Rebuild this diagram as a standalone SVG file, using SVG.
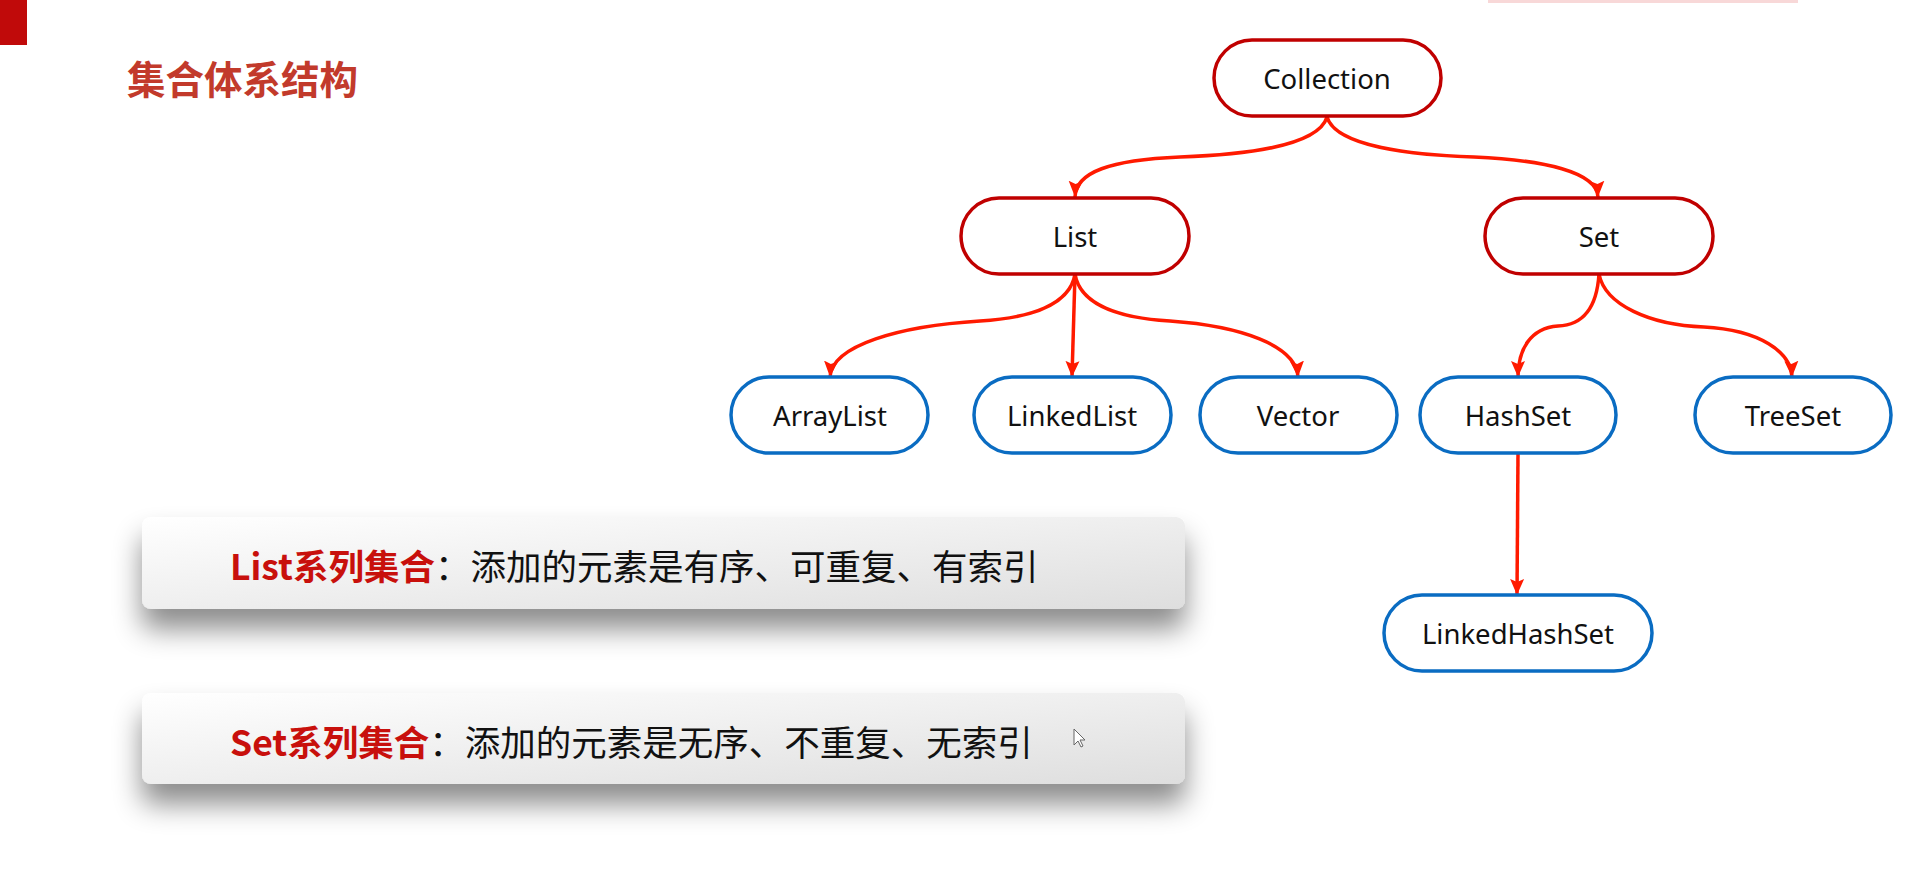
<svg xmlns="http://www.w3.org/2000/svg" width="1920" height="875" viewBox="0 0 1920 875">
<style>
.title{font-family:"Noto Sans CJK SC","Noto Sans",sans-serif;font-size:38.5px;font-weight:700;fill:#c23a2b}
.lbl{font-family:"Noto Sans","Open Sans","Noto Sans CJK SC",sans-serif;font-size:27.5px;fill:#111;text-anchor:middle;dominant-baseline:central}
.rn{fill:#fff;stroke:#c00000;stroke-width:3.5}
.bn{fill:#fff;stroke:#0a6cc2;stroke-width:3.5}
.edge{fill:none;stroke:#ff1a00;stroke-width:3.5;marker-end:url(#arr)}
.ban{fill:url(#bg);filter:url(#sh)}
.bt{font-family:"Noto Sans CJK SC","Noto Sans",sans-serif;font-size:35.5px;fill:#111;dominant-baseline:central}
.bt .hl{fill:#c8100c;font-weight:700}
</style>
<defs>
<marker id="arr" markerUnits="userSpaceOnUse" markerWidth="18" markerHeight="18" viewBox="0 -9 18 18" refX="16" refY="0" orient="auto">
<path d="M0,-7 L16,0 L0,7 L3,0 Z" fill="#ff1a00"/>
</marker>
<linearGradient id="bg" x1="0" y1="0" x2="1" y2="1">
<stop offset="0" stop-color="#ffffff"/>
<stop offset="1" stop-color="#dedede"/>
</linearGradient>
<filter id="sh" x="-10%" y="-30%" width="120%" height="200%">
<feDropShadow dx="0" dy="20" stdDeviation="14" flood-color="#000" flood-opacity="0.45"/>
</filter>
</defs>
<rect width="1920" height="875" fill="#fff"/>
<rect x="0" y="0" width="27" height="45" fill="#c00a0a"/>
<rect x="1488" y="0" width="310" height="3" fill="#f8d8d8"/>
<text class="title" x="127" y="94">集合体系结构</text>

<g id="connectors">
<path class="edge" d="M1327,117 C1318,147 1240,155 1180,157 C1110,160 1076,172 1075,197"/>
<path class="edge" d="M1327,117 C1336,147 1414,155 1474,157 C1544,160 1597,172 1598,197"/>
<path class="edge" d="M1075,274 C1070,305 1030,318 980,321 C900,326 832,345 830,377"/>
<path class="edge" d="M1075,274 L1072,377"/>
<path class="edge" d="M1075,274 C1080,305 1120,318 1170,321 C1240,326 1296,345 1298,377"/>
<path class="edge" d="M1599,274 C1597,305 1585,325 1558,326 C1530,328 1518,350 1518,377"/>
<path class="edge" d="M1599,274 C1605,305 1650,325 1704,327 C1760,330 1791,352 1792,377"/>
<path class="edge" d="M1518,453 L1517,595"/>
</g>

<g id="n-collection"><rect class="rn" x="1214" y="40" width="227" height="76" rx="38"/><text class="lbl" x="1327" y="78">Collection</text></g>
<g id="n-list"><rect class="rn" x="961" y="198" width="228" height="76" rx="38"/><text class="lbl" x="1075" y="236">List</text></g>
<g id="n-set"><rect class="rn" x="1485" y="198" width="228" height="76" rx="38"/><text class="lbl" x="1599" y="236">Set</text></g>
<g id="n-arraylist"><rect class="bn" x="731" y="377" width="197" height="76" rx="38"/><text class="lbl" x="830" y="415">ArrayList</text></g>
<g id="n-linkedlist"><rect class="bn" x="974" y="377" width="197" height="76" rx="38"/><text class="lbl" x="1072" y="415">LinkedList</text></g>
<g id="n-vector"><rect class="bn" x="1200" y="377" width="197" height="76" rx="38"/><text class="lbl" x="1298" y="415">Vector</text></g>
<g id="n-hashset"><rect class="bn" x="1420" y="377" width="196" height="76" rx="38"/><text class="lbl" x="1518" y="415">HashSet</text></g>
<g id="n-treeset"><rect class="bn" x="1695" y="377" width="196" height="76" rx="38"/><text class="lbl" x="1793" y="415">TreeSet</text></g>
<g id="n-linkedhashset"><rect class="bn" x="1384" y="595" width="268" height="76" rx="38"/><text class="lbl" x="1518" y="633">LinkedHashSet</text></g>

<g id="banner-list"><rect class="ban" x="142" y="517" width="1043" height="92" rx="9"/>
<text class="bt" x="230" y="564"><tspan class="hl">List系列集合</tspan>：添加的元素是有序、可重复、有索引</text></g>
<g id="banner-set"><rect class="ban" x="142" y="693" width="1043" height="91" rx="9"/>
<text class="bt" x="230" y="740"><tspan class="hl">Set系列集合</tspan>：添加的元素是无序、不重复、无索引</text></g>

<path d="M1074,729 L1074,745 L1078,741 L1081,747 L1083,746 L1080,740 L1085,740 Z" fill="#fff" stroke="#666" stroke-width="1"/>
</svg>
